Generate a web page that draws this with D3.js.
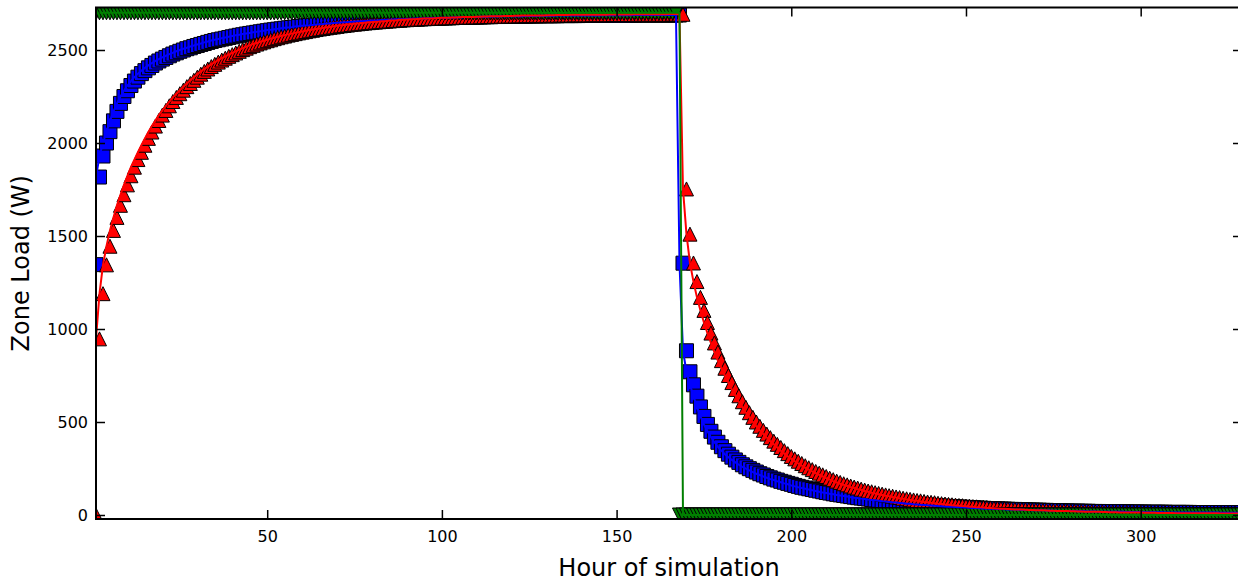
<!DOCTYPE html>
<meta charset="utf-8">
<head>
<script src="https://d3js.org/d3.v7.min.js"></script>
<style>
  body { margin: 0; background: #fff; }
  text { font-family: "DejaVu Sans", sans-serif; fill: #000; }
</style>
</head>
<body>
<svg id="svg" width="1238" height="586"></svg>
<script>
// hourly zone load (W), hours 1..168 then 169..336
let blueRise = [
  1346, 1817, 1930, 2000, 2061, 2119, 2170, 2213, 2250, 2281,
  2309, 2333, 2354, 2373, 2389, 2404, 2417, 2430, 2441, 2451,
  2460, 2469, 2478, 2485, 2493, 2500, 2507, 2512, 2519, 2524,
  2530, 2535, 2541, 2546, 2551, 2555, 2559, 2563, 2567, 2571,
  2575, 2579, 2582, 2586, 2589, 2592, 2595, 2598, 2601, 2604,
  2607, 2609, 2612, 2614, 2617, 2619, 2621, 2623, 2626, 2628,
  2630, 2632, 2633, 2635, 2637, 2639, 2640, 2642, 2643, 2645,
  2646, 2648, 2649, 2650, 2652, 2653, 2654, 2655, 2656, 2657,
  2658, 2659, 2660, 2661, 2662, 2663, 2664, 2665, 2665, 2666,
  2667, 2668, 2668, 2669, 2670, 2670, 2671, 2672, 2672, 2673,
  2673, 2674, 2674, 2675, 2675, 2676, 2676, 2677, 2677, 2678,
  2678, 2679, 2679, 2679, 2680, 2680, 2680, 2681, 2681, 2681,
  2682, 2682, 2682, 2682, 2683, 2683, 2683, 2683, 2684, 2684,
  2684, 2684, 2684, 2685, 2685, 2685, 2685, 2685, 2685, 2686,
  2686, 2686, 2686, 2686, 2686, 2686, 2687, 2687, 2687, 2687,
  2687, 2687, 2687, 2687, 2687, 2688, 2688, 2688, 2688, 2688,
  2688, 2688, 2688, 2688, 2688, 2688, 2688, 2688
];
let blueFall = [
  1354, 883, 770, 700, 639, 581, 530, 487, 450, 419,
  391, 367, 346, 327, 311, 296, 283, 270, 259, 249,
  240, 231, 222, 215, 207, 200, 193, 188, 181, 176,
  170, 165, 159, 154, 149, 145, 141, 137, 133, 129,
  125, 121, 118, 114, 111, 108, 105, 102, 99, 96,
  93, 91, 88, 86, 83, 81, 79, 77, 74, 72,
  70, 68, 67, 65, 63, 61, 60, 58, 57, 55,
  54, 52, 51, 50, 48, 47, 46, 45, 44, 43,
  42, 41, 40, 39, 38, 37, 36, 35, 35, 34,
  33, 32, 32, 31, 30, 30, 29, 28, 28, 27,
  27, 26, 26, 25, 25, 24, 24, 23, 23, 22,
  22, 21, 21, 21, 20, 20, 20, 19, 19, 19,
  18, 18, 18, 18, 17, 17, 17, 17, 16, 16,
  16, 16, 16, 15, 15, 15, 15, 15, 15, 14,
  14, 14, 14, 14, 14, 14, 13, 13, 13, 13,
  13, 13, 13, 13, 13, 12, 12, 12, 12, 12,
  12, 12, 12, 12, 12, 12, 12, 12
];
let redRise = [
  0, 947, 1190, 1345, 1445, 1530, 1600, 1665, 1722, 1775,
  1824, 1870, 1911, 1950, 1988, 2025, 2059, 2091, 2121, 2150,
  2175, 2200, 2223, 2245, 2265, 2284, 2303, 2320, 2337, 2354,
  2370, 2385, 2398, 2411, 2423, 2435, 2446, 2456, 2466, 2475,
  2484, 2493, 2502, 2510, 2518, 2525, 2532, 2538, 2544, 2550,
  2555, 2561, 2566, 2571, 2575, 2580, 2584, 2588, 2592, 2596,
  2599, 2603, 2606, 2610, 2613, 2616, 2619, 2622, 2624, 2627,
  2630, 2632, 2634, 2637, 2639, 2641, 2643, 2645, 2647, 2649,
  2650, 2652, 2653, 2655, 2656, 2658, 2659, 2660, 2662, 2663,
  2664, 2665, 2666, 2667, 2668, 2669, 2670, 2670, 2671, 2672,
  2673, 2673, 2674, 2675, 2675, 2676, 2677, 2677, 2678, 2678,
  2679, 2679, 2680, 2680, 2681, 2681, 2682, 2682, 2683, 2683,
  2683, 2684, 2684, 2685, 2685, 2685, 2686, 2686, 2686, 2686,
  2687, 2687, 2687, 2688, 2688, 2688, 2688, 2689, 2689, 2689,
  2689, 2689, 2690, 2690, 2690, 2690, 2690, 2690, 2691, 2691,
  2691, 2691, 2691, 2691, 2691, 2692, 2692, 2692, 2692, 2692,
  2692, 2692, 2692, 2692, 2692, 2693, 2693, 2693
];
let redFall = [
  2692, 1753, 1510, 1355, 1255, 1170, 1100, 1035, 978, 925,
  876, 830, 789, 750, 712, 675, 641, 609, 579, 550,
  525, 500, 477, 455, 435, 416, 397, 380, 363, 346,
  330, 315, 302, 289, 277, 265, 254, 244, 234, 225,
  216, 207, 198, 190, 182, 175, 168, 162, 156, 150,
  145, 139, 134, 129, 125, 120, 116, 112, 108, 104,
  101, 97, 94, 90, 87, 84, 81, 78, 76, 73,
  70, 68, 66, 63, 61, 59, 57, 55, 53, 51,
  50, 48, 47, 45, 44, 42, 41, 40, 38, 37,
  36, 35, 34, 33, 32, 31, 30, 30, 29, 28,
  27, 27, 26, 25, 25, 24, 23, 23, 22, 22,
  21, 21, 20, 20, 19, 19, 18, 18, 17, 17,
  17, 16, 16, 15, 15, 15, 14, 14, 14, 14,
  13, 13, 13, 12, 12, 12, 12, 11, 11, 11,
  11, 11, 10, 10, 10, 10, 10, 10, 9, 9,
  9, 9, 9, 9, 9, 8, 8, 8, 8, 8,
  8, 8, 8, 8, 8, 7, 7, 7
];
// heating setpoint load: on for hours 1..167, off from 168
let greenOn = [
  2700, 2700, 2700, 2700, 2700, 2700, 2700, 2700, 2700, 2700, 2700, 2700, 2700, 2700, 2700, 2700, 2700, 2700, 2700, 2700,
  2700, 2700, 2700, 2700, 2700, 2700, 2700, 2700, 2700, 2700, 2700, 2700, 2700, 2700, 2700, 2700, 2700, 2700, 2700, 2700,
  2700, 2700, 2700, 2700, 2700, 2700, 2700, 2700, 2700, 2700, 2700, 2700, 2700, 2700, 2700, 2700, 2700, 2700, 2700, 2700,
  2700, 2700, 2700, 2700, 2700, 2700, 2700, 2700, 2700, 2700, 2700, 2700, 2700, 2700, 2700, 2700, 2700, 2700, 2700, 2700,
  2700, 2700, 2700, 2700, 2700, 2700, 2700, 2700, 2700, 2700, 2700, 2700, 2700, 2700, 2700, 2700, 2700, 2700, 2700, 2700,
  2700, 2700, 2700, 2700, 2700, 2700, 2700, 2700, 2700, 2700, 2700, 2700, 2700, 2700, 2700, 2700, 2700, 2700, 2700, 2700,
  2700, 2700, 2700, 2700, 2700, 2700, 2700, 2700, 2700, 2700, 2700, 2700, 2700, 2700, 2700, 2700, 2700, 2700, 2700, 2700,
  2700, 2700, 2700, 2700, 2700, 2700, 2700, 2700, 2700, 2700, 2700, 2700, 2700, 2700, 2700, 2700, 2700, 2700, 2700, 2700,
  2700, 2700, 2700, 2700, 2700, 2700, 2700
];
let greenOff = [
  0, 0, 0, 0, 0, 0, 0, 0, 0, 0, 0, 0, 0, 0, 0, 0, 0, 0, 0, 0,
  0, 0, 0, 0, 0, 0, 0, 0, 0, 0, 0, 0, 0, 0, 0, 0, 0, 0, 0, 0,
  0, 0, 0, 0, 0, 0, 0, 0, 0, 0, 0, 0, 0, 0, 0, 0, 0, 0, 0, 0,
  0, 0, 0, 0, 0, 0, 0, 0, 0, 0, 0, 0, 0, 0, 0, 0, 0, 0, 0, 0,
  0, 0, 0, 0, 0, 0, 0, 0, 0, 0, 0, 0, 0, 0, 0, 0, 0, 0, 0, 0,
  0, 0, 0, 0, 0, 0, 0, 0, 0, 0, 0, 0, 0, 0, 0, 0, 0, 0, 0, 0,
  0, 0, 0, 0, 0, 0, 0, 0, 0, 0, 0, 0, 0, 0, 0, 0, 0, 0, 0, 0,
  0, 0, 0, 0, 0, 0, 0, 0, 0, 0, 0, 0, 0, 0, 0, 0, 0, 0, 0, 0,
  0, 0, 0, 0, 0, 0, 0, 0, 0
];
let xTicks = [50, 100, 150, 200, 250, 300];
let yTicks = [0, 500, 1000, 1500, 2000, 2500];
let hours = d3.range(1, 337);

let series = [
  {color: "#0000ff", values: blueRise.concat(blueFall), marker: "M-7,-7h14v14h-14z", lineShift: -1},
  {color: "#ff0000", values: redRise.concat(redFall), marker: "M0,-7L7,7L-7,7Z", lineShift: -1},
  {color: "#007f00", values: greenOn.concat(greenOff), marker: "M0,7L7,-7L-7,-7Z", lineShift: 1}
];

let svg = d3.select("#svg");
let pLeft = 96, pRight = 1242, pTop = 7.5, pBottom = 519;

let x = d3.scaleLinear().domain([1, 329]).range([pLeft, pRight]);
let y = d3.scaleLinear().domain([-21.5, 2728.5]).range([pBottom, pTop]);

svg.append("rect").attr("width", 1238).attr("height", 586).attr("fill", "#fff");

svg.append("clipPath").attr("id", "plot")
  .append("rect")
  .attr("x", pLeft).attr("y", pTop)
  .attr("width", pRight - pLeft).attr("height", pBottom - pTop);

let plot = svg.append("g").attr("clip-path", "url(#plot)");

// markers first, then the lines on top of them
series.forEach(s => {
  plot.append("g")
    .selectAll("path")
    .data(hours)
    .enter().append("path")
    .attr("d", s.marker)
    .attr("transform", (h, i) => `translate(${x(h)},${y(s.values[i])})`)
    .attr("fill", s.color)
    .attr("stroke", "#000")
    .attr("stroke-width", 1);
});

series.forEach(s => {
  let line = d3.line()
    .x((h) => x(h + s.lineShift))
    .y((h, i) => y(s.values[i]));
  plot.append("path")
    .datum(hours)
    .attr("d", line)
    .attr("fill", "none")
    .attr("stroke", s.color)
    .attr("stroke-width", 2);
});

// axes, ticks pointing inward
let styleAxis = (g) => {
  g.select(".domain").remove();
  g.selectAll(".tick line").attr("stroke", "#000").attr("stroke-width", 1.5);
  g.selectAll(".tick text").attr("font-size", 16).attr("font-family", "DejaVu Sans").attr("fill", "#000");
};

svg.append("g")
  .attr("transform", `translate(0,${pBottom})`)
  .call(d3.axisBottom(x).tickValues(xTicks).tickFormat(d3.format("d")).tickSize(-9).tickPadding(11.5))
  .call(styleAxis);

svg.append("g")
  .attr("transform", `translate(0,${pTop})`)
  .call(d3.axisTop(x).tickValues(xTicks).tickSize(-9).tickFormat(""))
  .call(styleAxis);

svg.append("g")
  .attr("transform", `translate(${pLeft},0)`)
  .call(d3.axisLeft(y).tickValues(yTicks).tickFormat(d3.format("d")).tickSize(-9).tickPadding(8))
  .call(styleAxis);

svg.append("g")
  .attr("transform", `translate(${pRight},0)`)
  .call(d3.axisRight(y).tickValues(yTicks).tickSize(-9).tickFormat(""))
  .call(styleAxis);

svg.append("rect")
  .attr("x", pLeft).attr("y", pTop)
  .attr("width", pRight - pLeft).attr("height", pBottom - pTop)
  .attr("fill", "none")
  .attr("stroke", "#000")
  .attr("stroke-width", 2);

svg.append("text")
  .attr("x", (pLeft + pRight) / 2)
  .attr("y", 576)
  .attr("text-anchor", "middle")
  .attr("font-size", 24)
  .text("Hour of simulation");

svg.append("text")
  .attr("transform", `translate(29,${(pTop + pBottom) / 2}) rotate(-90)`)
  .attr("text-anchor", "middle")
  .attr("font-size", 24)
  .text("Zone Load (W)");
</script>
</body>
